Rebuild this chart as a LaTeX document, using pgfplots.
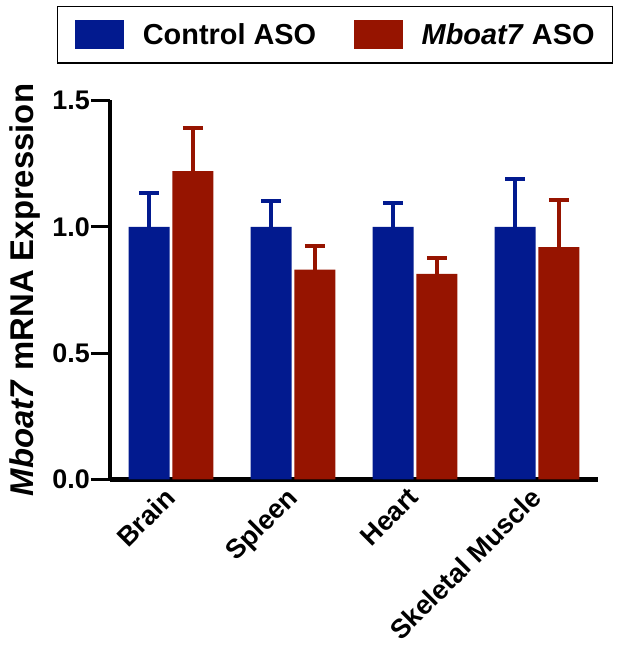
\documentclass[border=0pt]{standalone}
\usepackage{fontspec}
\setmainfont{Liberation Sans}
\usepackage{pgfplots}
\pgfplotsset{compat=1.18}
\definecolor{ctrlblue}{RGB}{2,26,143}
\definecolor{mred}{RGB}{150,20,0}
\begin{document}
\begin{tikzpicture}
\useasboundingbox (0,0) rectangle (617bp,655bp);
\begin{axis}[
  at={(110bp,175.5bp)}, anchor=south west,
  scale only axis, width=488bp, height=379bp,
  xmin=-0.5, xmax=3.5, ymin=0, ymax=1.5,
  axis x line*=bottom, axis y line*=left,
  axis line style={line width=4.5bp, -, black},
  clip=false,
  /pgf/number format/assume math mode=true,
  /pgf/number format/fixed,
  /pgf/number format/fixed zerofill,
  /pgf/number format/precision=1,
  xtick={0,1,2,3},
  xticklabels={Brain,Spleen,Heart,Skeletal Muscle},
  ytick={0,0.5,1,1.5},
  tick align=outside,
  major tick length=19bp,
  ytick style={black, line width=3bp},
  xtick style={draw=none},
  yticklabel style={font=\bfseries\fontsize{27}{30}\selectfont, inner sep=1bp},
  xticklabel style={font=\bfseries\fontsize{27}{30}\selectfont, xshift=-8bp, yshift=13bp, rotate=45, anchor=north east, inner sep=0bp},
  ylabel={\textit{Mboat7} mRNA Expression},
  ylabel style={font=\bfseries\fontsize{33}{36}\selectfont, at={(axis description cs:-0.174,0.5)}, anchor=center},
  bar width=41bp,
  legend columns=2,
  legend style={at={(0.461,1.174)}, anchor=center, draw=black, line width=1.5bp,
    font=\bfseries\fontsize{29}{32}\selectfont, inner xsep=18bp, inner ysep=14bp,
    nodes={inner sep=0bp},
    /tikz/every odd column/.append style={column sep=19bp},
    /tikz/every even column/.append style={column sep=38bp}},
]
\addplot[ybar, bar shift=0bp, fill=ctrlblue, draw=none, forget plot,
  error bars/.cd, y dir=plus, y explicit, error mark=|,
  error bar style={line width=4bp, ctrlblue},
  error mark options={ctrlblue, line width=4bp, mark size=10bp}]
  coordinates {(-0.18,1.0) +- (0,0.133) (0.82,1.0) +- (0,0.102) (1.82,1.0) +- (0,0.096) (2.82,1.0) +- (0,0.190)};
\addplot[ybar, bar shift=0bp, fill=mred, draw=none, forget plot,
  error bars/.cd, y dir=plus, y explicit, error mark=|,
  error bar style={line width=4bp, mred},
  error mark options={mred, line width=4bp, mark size=10bp}]
  coordinates {(0.18,1.220) +- (0,0.173) (1.18,0.831) +- (0,0.095) (2.18,0.814) +- (0,0.062) (3.18,0.920) +- (0,0.188)};
\addlegendimage{legend image code/.code={\fill[ctrlblue] (0bp,-13.5bp) rectangle (47bp,13.5bp);}}
\addlegendentry{Control ASO}
\addlegendimage{legend image code/.code={\fill[mred] (0bp,-13.5bp) rectangle (47bp,13.5bp);}}
\addlegendentry{\textit{Mboat7} ASO}
\end{axis}
\end{tikzpicture}
\end{document}
